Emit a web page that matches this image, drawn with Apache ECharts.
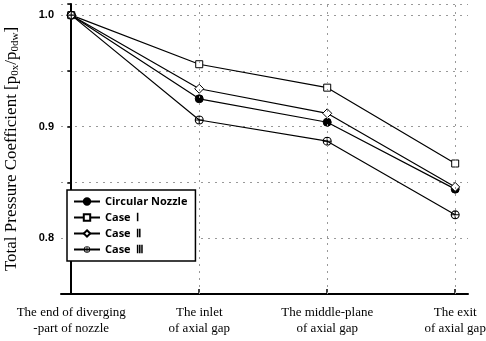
<!DOCTYPE html>
<html><head><meta charset="utf-8">
<script src="https://cdn.jsdelivr.net/npm/echarts@6/dist/echarts.min.js"></script>
<style>html,body{margin:0;padding:0;background:#fff}#c{width:486px;height:341px}</style>
</head><body><div id="c"></div>
<script>
const categories = ["The end of diverging\n-part of nozzle", "The inlet\nof axial gap", "The middle-plane\nof axial gap", "The exit\nof axial gap"];
const circularNozzle = [1.0, 0.925, 0.904, 0.844];
const case1 = [1.0, 0.956, 0.935, 0.867];
const case2 = [1.0, 0.934, 0.912, 0.846];
const case3 = [1.0, 0.906, 0.887, 0.821];
const seriesNames = ["Circular Nozzle", "Case  Ⅰ", "Case  Ⅱ", "Case  Ⅲ"];
const yTickLabels = [0.8, 0.9, 1.0];

const crossCircle = 'path://M50,0A50,50 0 1,1 49.9,0Z M50,12A38,38 0 1,0 50.1,12Z M44,0H56V100H44Z M0,44H100V56H0Z';
const symbols = ['circle', 'rect', 'diamond', crossCircle];
const fills = ['#000', '#fff', '#fff', '#000'];
const borders = [1, 1, 1, 0];
const sizes = [8, 7, 9, 9];
const allData = [circularNozzle, case1, case2, case3];

const chart = echarts.init(document.getElementById('c'));
chart.setOption({
  animation: false,
  grid: {left: 61, right: 18, top: 4, bottom: 47, containLabel: false, outerBoundsMode: 'none'},
  legend: {
    orient: 'vertical', left: 67, top: 190,
    backgroundColor: '#fff', borderColor: '#000', borderWidth: 1.5,
    padding: [6, 8, 6, 6], itemGap: 5, itemWidth: 26, itemHeight: 8,
    textStyle: {fontFamily: 'Open Sans', fontWeight: 'bold', fontSize: 11, color: '#000'},
    data: seriesNames
  },
  xAxis: {
    type: 'value', min: -0.08, max: 3.1,
    axisLine: {lineStyle: {color: '#000', width: 2}},
    axisTick: {customValues: [0, 1, 2, 3], length: 5, inside: true, lineStyle: {color: '#000', width: 1.5}},
    axisLabel: {customValues: [0, 1, 2, 3], formatter: v => categories[Math.round(v)] || '',
      fontFamily: 'Liberation Serif', fontSize: 13, color: '#000', margin: 11, lineHeight: 16},
    splitLine: {show: false}
  },
  yAxis: {
    type: 'value', min: 0.75, max: 1.01, interval: 0.05,
    name: 'Total Pressure Coefficient [p{s|0x}/p{s|0dw}]',
    nameLocation: 'middle', nameGap: 40, nameRotate: 90,
    nameTextStyle: {fontFamily: 'Liberation Serif', fontSize: 17, color: '#000',
      rich: {s: {fontFamily: 'Liberation Serif', fontSize: 11, verticalAlign: 'bottom', padding: [7, 0, 0, 0]}}},
    axisLine: {show: true, lineStyle: {color: '#000', width: 2}},
    axisTick: {show: true, length: 4, lineStyle: {color: '#000', width: 1.5}},
    axisLabel: {
      formatter: v => { const m = yTickLabels.find(t => Math.abs(t - v) < 1e-6); return m !== undefined ? m.toFixed(1) : ''; },
      fontFamily: 'Liberation Sans', fontWeight: 'bold', fontSize: 11, color: '#000', margin: 7
    },
    splitLine: {show: true, lineStyle: {color: '#999', type: [2, 5], width: 1}}
  },
  series: allData.map((d, i) => ({
    name: seriesNames[i], type: 'line',
    data: d.map((v, j) => [j, v]),
    symbol: symbols[i], symbolSize: sizes[i],
    lineStyle: {color: '#000', width: 1.2},
    itemStyle: {color: fills[i], borderColor: '#000', borderWidth: borders[i]},
    z: 3
  })).concat([{
    type: 'line', data: [], markLine: {
      silent: true, symbol: 'none', label: {show: false},
      lineStyle: {color: '#999', type: [2, 5], width: 1},
      data: [{xAxis: 1}, {xAxis: 2}, {xAxis: 3}]
    }
  }])
});
</script></body></html>
